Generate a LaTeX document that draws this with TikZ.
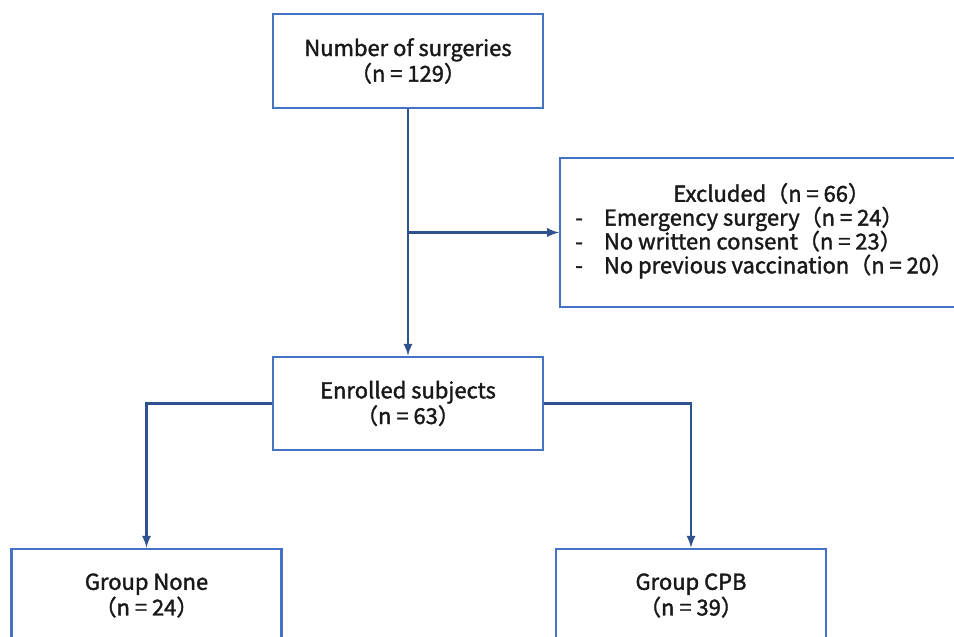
\documentclass[tikz,border=0pt]{standalone}
\usepackage{fontspec}
\setmainfont{Noto Sans CJK JP}[FakeBold=1.6]
\usetikzlibrary{arrows, positioning}
\definecolor{boxblue}{HTML}{4472C4}
\definecolor{linkblue}{HTML}{2F528F}

\begin{document}
\begin{tikzpicture}[
        x=0.02cm, y=-0.02cm,
        box/.style={rectangle, minimum width=5.4cm, minimum height=1.87cm, text centered, draw=boxblue, line width=1.2pt, fill=white, align=center, text=black!90, font=\fontsize{12.5}{14.6}\selectfont},
        listtext/.style={inner sep=0pt, text=black!90, font=\fontsize{12.5}{14.6}\selectfont},
        arrow/.style={->,>=latex, draw=linkblue, line width=1.3pt}
    ]
        \useasboundingbox (0,0) rectangle (954,636);
        \clip (0,0) rectangle (954,636);

        % Boxes
        \node (surgeries) [box] at (408,61) {Number of surgeries\\（n = 129）};
        \node (excluded) [box, minimum width=8.2cm, minimum height=2.98cm, anchor=west] at (559,232.5) {};
        \node (exclist) [listtext, anchor=west] at (575,232) {%
            \begin{tabular}{@{}l@{\hspace{0.42cm}}l@{}}
            \multicolumn{2}{c}{\hspace{0.3cm}Excluded（n = 66）}\\[-1.5pt]
            - & Emergency surgery（n = 24）\\[-1.5pt]
            - & No written consent（n = 23）\\[-1.5pt]
            - & No previous vaccination（n = 20）
            \end{tabular}};
        \node (enrolled) [box] at (408,403.5) {Enrolled subjects\\（n = 63）};
        \node (none) [box] at (146.5,595.5) {Group None\\（n = 24）};
        \node (cpb) [box] at (691,595.5) {Group CPB\\（n = 39）};

        % Arrows
        \draw [arrow] (surgeries.south) -- (enrolled.north);
        \draw [arrow] (surgeries.south |- excluded.west) -- (excluded.west);
        \draw [arrow] (enrolled.west) -| (none.north);
        \draw [arrow] (enrolled.east) -| (cpb.north);

\end{tikzpicture}
\end{document}
